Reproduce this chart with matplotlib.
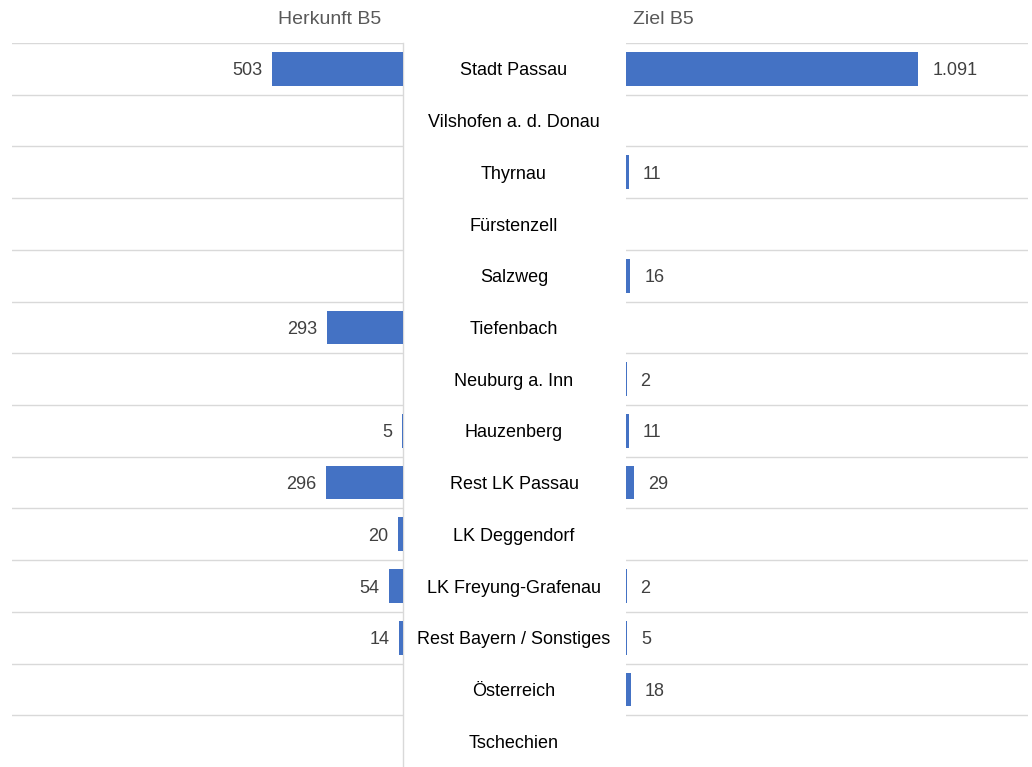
import numpy as np
import matplotlib
matplotlib.use("Agg")
from matplotlib import pyplot as plt
from matplotlib.transforms import blended_transform_factory

plt.rcParams['font.family'] = ['Liberation Sans', 'DejaVu Sans']

# Daten
orte = ["Stadt Passau", "Vilshofen a. d. Donau", "Thyrnau", "Fürstenzell", "Salzweg",
        "Tiefenbach", "Neuburg a. Inn", "Hauzenberg", "Rest LK Passau", "LK Deggendorf",
        "LK Freyung-Grafenau", "Rest Bayern / Sonstiges", "Österreich", "Tschechien"]
herkunft = [503, 0, 0, 0, 0, 293, 0, 5, 296, 20, 54, 14, 0, 0]
ziel = [1091, 0, 11, 0, 16, 0, 2, 11, 29, 0, 2, 5, 18, 0]

blau = "#4472C4"
grau_linie = "#D9D9D9"
W, H = 1032, 767

def fmt(v):
    return "{:,}".format(v).replace(",", ".")

fig = plt.figure(figsize=(W / 100, H / 100), dpi=100)
ax_l = fig.add_axes([12 / W, 0, 391 / W, 1 - 43 / H])
ax_r = fig.add_axes([626 / W, 0, 402 / W, 1 - 43 / H])

y = np.arange(len(orte))
for ax, werte, links in [(ax_l, herkunft, True), (ax_r, ziel, False)]:
    ax.barh(y, werte, height=0.65, color=blau)
    ax.set_xlim(0, 1500)
    ax.set_ylim(len(orte) - 0.5, -0.5)
    if links:
        ax.invert_xaxis()
    for g in np.arange(-0.5, len(orte) - 0.5, 1.0):
        ax.axhline(g, color=grau_linie, lw=1, zorder=0)
    for s in ax.spines.values():
        s.set_visible(False)
    ax.set_xticks([])
    ax.set_yticks([])
    # Beschriftung der Balken
    for i, v in enumerate(werte):
        if v <= 0:
            continue
        if links:
            ax.annotate(fmt(v), (v, i + 0.04), xytext=(-7, 0), textcoords="offset points",
                        ha="right", va="center", fontsize=13, color="#404040")
        else:
            ax.annotate(fmt(v), (v, i + 0.04), xytext=(10, 0), textcoords="offset points",
                        ha="left", va="center", fontsize=13, color="#404040")

# vertikale Linie am linken Panel
ax_l.axvline(0, color=grau_linie, lw=1, zorder=0, clip_on=False)

# Kategorien in der Mitte
tr = blended_transform_factory(fig.transFigure, ax_l.transData)
for i, o in enumerate(orte):
    ax_l.text(514 / W, i + 0.04, o, transform=tr, ha="center", va="center",
              fontsize=13, color="black", clip_on=False)

fig.text(330 / W, 1 - 20 / H, "Herkunft B5", ha="center", va="center",
         fontsize=14, color="#595959")
fig.text(633 / W, 1 - 20 / H, "Ziel B5", ha="left", va="center",
         fontsize=14, color="#595959")

fig.savefig("out.png", dpi=100)
